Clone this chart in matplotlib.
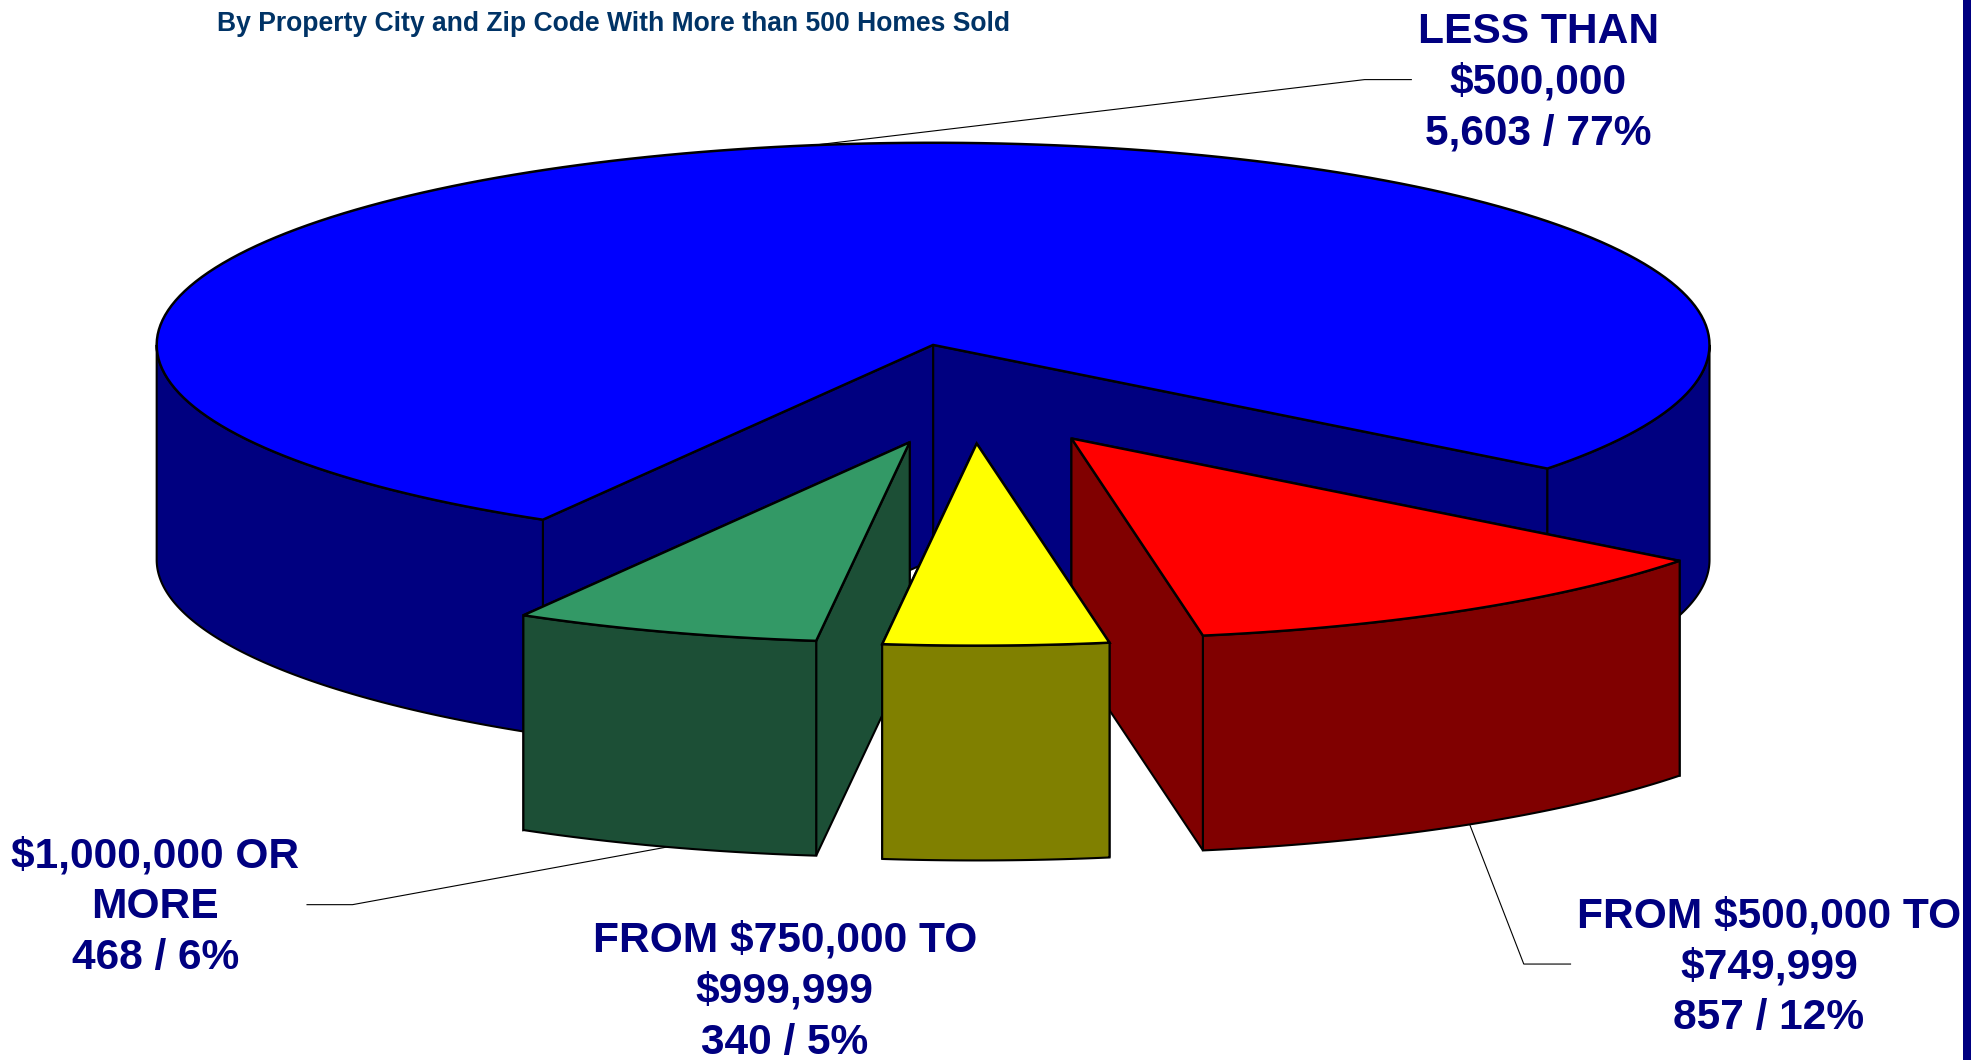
import matplotlib
matplotlib.use("Agg")
import matplotlib.pyplot as plt
import numpy as np
from matplotlib.patches import Polygon

categories = ["LESS THAN\n$500,000", "FROM $500,000 TO\n$749,999", "FROM $750,000 TO\n$999,999", "$1,000,000 OR\nMORE"]
homes_sold = [5603, 857, 340, 468]
percents = [77, 12, 5, 6]
top_colors = ["#0000FF", "#FF0000", "#FFFF00", "#339966"]
side_colors = ["#000080", "#800000", "#808000", "#1C4F36"]

NAVY = "#000080"
S = 1.2635
CX, CY = 738.5 * S, 273 * S
RX, RY = 614.5 * S, 160 * S
DEPTH = 170 * S
START = -37.7
# how far each slice is pulled out of the pie, and its radius relative to the main one
offsets = [(0, 0), (109.5 * S, 74 * S), (34.5 * S, 78 * S), (-18.5 * S, 77 * S)]
shrink = [1, 0.99, 1, 0.99]
label_pos = [(1217.5, 65.5), (1400, 765.5), (621, 785), (123, 718)]
leaders = [
    [(1117, 63), (1080, 63), (635, 116)],
    [(1243, 763), (1206, 763), (1163, 652)],
    [(243, 716), (279, 716), (530, 670)],
]


def rim(a0, a1, dx=0, dy=0, k=1):
    t = np.radians(np.linspace(a0, a1, 200))
    return np.column_stack([CX + dx + k * RX * np.cos(t), CY + dy - k * RY * np.sin(t)])


def draw_slice(ax, a0, a1, top, side, dx, dy, k):
    apex = np.array([CX + dx, CY + dy])
    # cut faces, far one first so the near one sits on top of it
    ends = sorted([rim(a, a, dx, dy, k)[0] for a in (a0, a1)], key=lambda p: p[1])
    for p in ends:
        ax.add_patch(Polygon([apex, p, p + [0, DEPTH], apex + [0, DEPTH]], fc=side, ec="black", lw=1.5))
    # outer wall, only the part facing the viewer
    for lo, hi in [(-180, 0), (180, 360)]:
        b0, b1 = max(a0, lo), min(a1, hi)
        if b1 > b0:
            arc = rim(b0, b1, dx, dy, k)
            ax.add_patch(Polygon(np.vstack([arc, arc[::-1] + [0, DEPTH]]), fc=side, ec="black", lw=1.5))
    ax.add_patch(Polygon(np.vstack([apex, rim(a0, a1, dx, dy, k)]), fc=top, ec="black", lw=1.8))


fig = plt.figure(figsize=(19.81, 10.6), dpi=100)
ax = fig.add_axes([0, 0, 1, 1])
ax.set_xlim(0, 1981)
ax.set_ylim(1060, 0)
ax.axis("off")

sweeps = 360 * np.array(homes_sold) / sum(homes_sold)
# blue runs counter-clockwise from START, the others clockwise below it
a = START
slices = [(START, START + sweeps[0])]
for s in sweeps[1:]:
    slices.append((a - s, a))
    a -= s

for i in [0, 3, 1, 2]:
    draw_slice(ax, slices[i][0], slices[i][1], top_colors[i], side_colors[i], *offsets[i], shrink[i])

for pts in leaders:
    xy = np.array(pts) * S
    ax.plot(xy[:, 0], xy[:, 1], color="black", lw=0.8, zorder=0.5)

for name, n, pct, (x, y) in zip(categories, homes_sold, percents, label_pos):
    ax.text(x * S, y * S, f"{name}\n{n:,} / {pct}%", ha="center", va="center", color=NAVY,
            fontsize=30.6, fontweight="bold", family="Liberation Sans", linespacing=1.35)

ax.text(485.5 * S, 19 * S, "By Property City and Zip Code With More than 500 Homes Sold", ha="center", va="center",
        color="#003366", fontsize=19.1, fontweight="bold", family="Liberation Sans")
ax.add_patch(plt.Rectangle((1963, 0), 8, 1060, fc=NAVY, ec="none"))

fig.savefig("out.png", dpi=100)
